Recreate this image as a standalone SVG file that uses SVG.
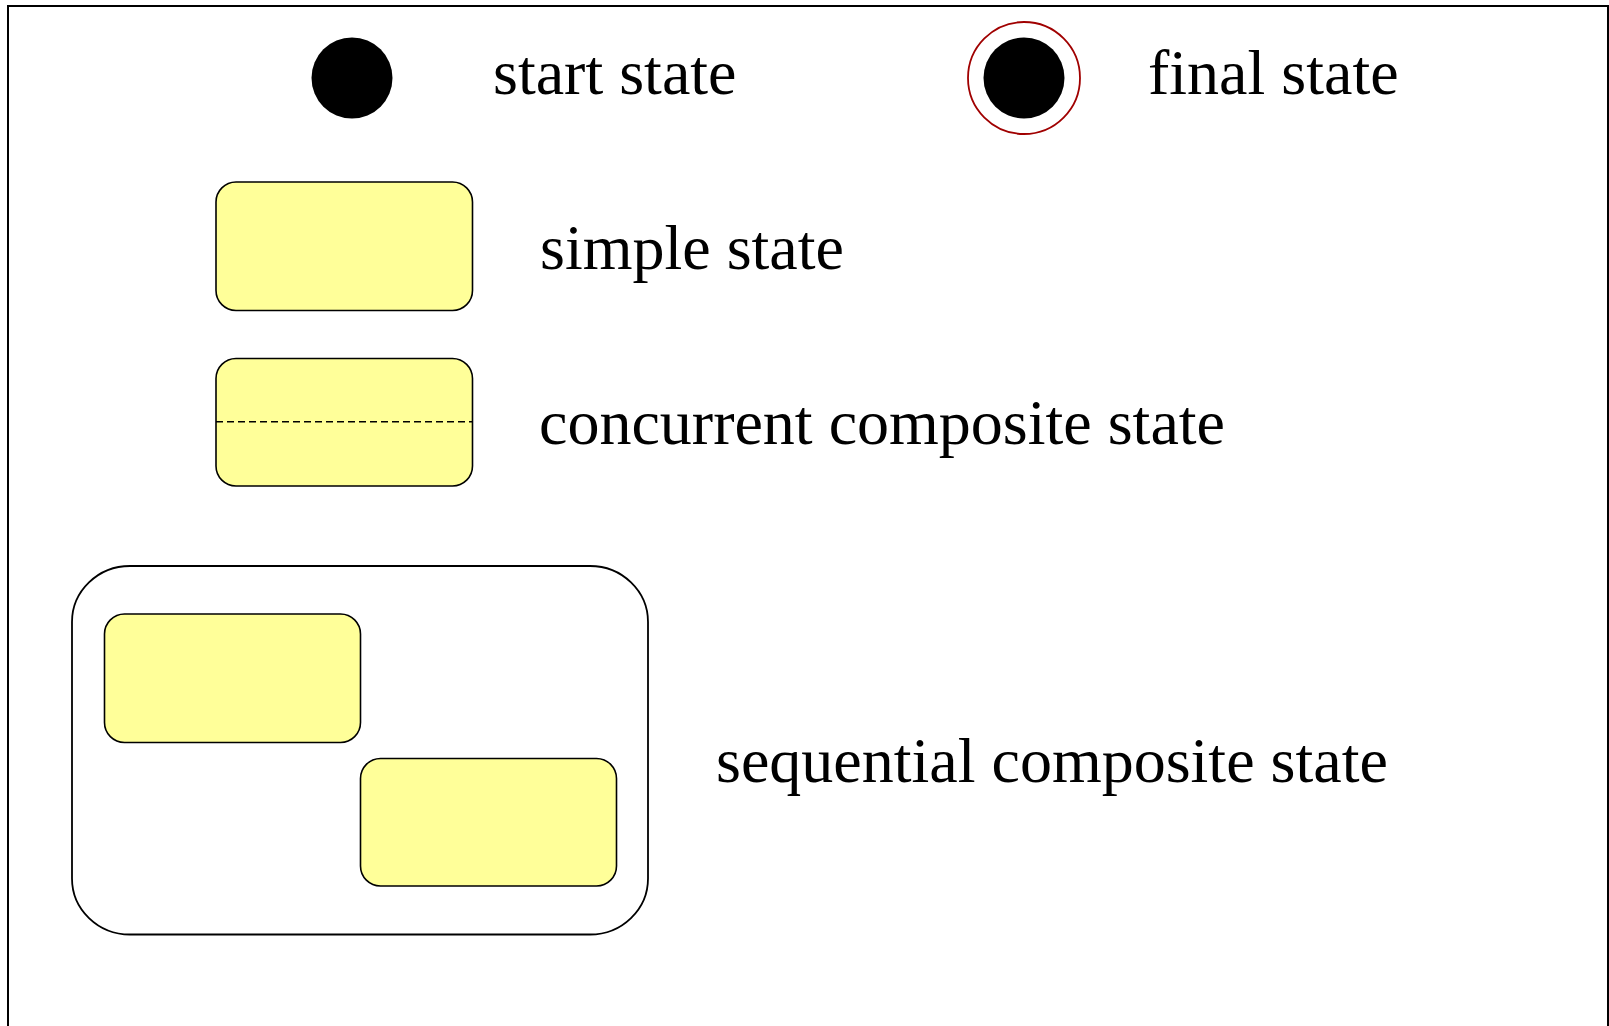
<svg xmlns="http://www.w3.org/2000/svg" width="1609" height="1026" viewBox="0 0 1609 1026">
<style>
.state{fill:#ffff99;stroke:#000;stroke-width:1.6}
.label{font-family:"Liberation Serif","Times New Roman",serif;font-size:64px;fill:#000}
</style>
<rect x="0" y="0" width="1609" height="1026" fill="#fff"/>
<rect id="frame" x="8" y="6" width="1600" height="1040" fill="none" stroke="#000" stroke-width="2"/>
<g id="start-state">
<circle cx="352" cy="78" r="40.5" fill="#000"/>
<text class="label" x="493" y="94">start state</text>
</g>
<g id="final-state">
<circle cx="1024" cy="78" r="56" fill="#fff" stroke="#a00000" stroke-width="1.8"/>
<circle cx="1024" cy="78" r="40.5" fill="#000"/>
<text class="label" x="1148" y="94">final state</text>
</g>
<g id="simple-state">
<rect class="state" x="216" y="182" width="256.5" height="128.5" rx="20" ry="20"/>
<text class="label" x="540" y="269">simple state</text>
</g>
<g id="concurrent-composite-state">
<rect class="state" x="216" y="358.5" width="256.5" height="127.5" rx="20" ry="20"/>
<line x1="216" y1="421.7" x2="472.5" y2="421.7" stroke="#000" stroke-width="1.6" stroke-dasharray="7,4"/>
<text class="label" x="539" y="444">concurrent composite state</text>
</g>
<g id="sequential-composite-state">
<rect x="72" y="566" width="576" height="368.5" rx="58" ry="56" fill="#fff" stroke="#000" stroke-width="1.8"/>
<rect class="state" x="104.5" y="614" width="256" height="128.5" rx="20" ry="20"/>
<rect class="state" x="360.5" y="758.5" width="256" height="127.5" rx="20" ry="20"/>
<text class="label" x="716" y="782">sequential composite state</text>
</g>
<g id="connectors"/>
</svg>
